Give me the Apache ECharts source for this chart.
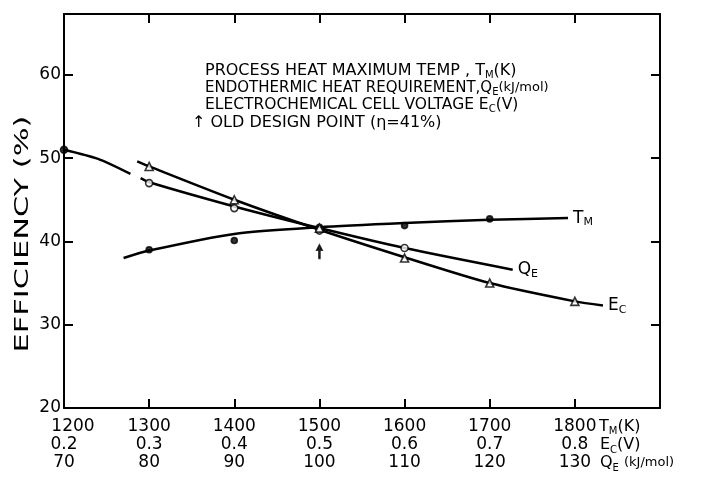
<!DOCTYPE html>
<html><head><meta charset="utf-8">
<script src="https://cdn.jsdelivr.net/npm/echarts@6/dist/echarts.min.js"></script>
<style>html,body{margin:0;padding:0;background:#fff}#c{width:714px;height:479px}</style>
</head><body><div id="c"></div>
<script>
// ---- data ----
const tmTickLabels = ['1200','1300','1400','1500','1600','1700','1800'];
const ecTickLabels = ['0.2','0.3','0.4','0.5','0.6','0.7','0.8'];
const qeTickLabels = ['70','80','90','100','110','120','130'];
const yTickLabels = ['20','30','40','50','60'];

// curves (x in T_M units, y = efficiency %)
const tmLine = [[1270,38.0],[1300,38.9],[1400,40.9],[1500,41.7],[1600,42.2],[1700,42.6],[1792,42.8]];
const qeLineLeft = [[1200,51.0],[1240,49.9],[1278,48.1]];
const qeLine = [[1290,47.6],[1300,47.1],[1400,44.2],[1500,41.6],[1600,39.2],[1727,36.6]];
const ecLine = [[1286,49.6],[1300,49.0],[1400,45.0],[1500,41.4],[1600,38.1],[1700,35.0],[1800,32.8],[1833,32.3]];

// plotted markers
const tmPoints = [[1300,39.0],[1400,40.1],[1500,41.7],[1600,41.9],[1700,42.7]];
const qeStartPoint = [[1200,51.0]];
const qePoints = [[1300,47.0],[1400,44.0],[1500,41.3],[1600,39.2]];
const ecPoints = [[1300,49.0],[1400,45.0],[1500,41.6],[1600,38.0],[1700,35.0],[1800,32.8]];
const designPoint = [[1500,38.8]];

// ---- chart ----
const FONT = 'DejaVu Sans';
const chart = echarts.init(document.getElementById('c'), null, {renderer:'canvas'});
const sub = {fontFamily:FONT, fontSize:11, padding:[9,0,0,0], color:'#000'};
const big = {fontFamily:FONT, fontSize:17, color:'#000'};

function lineSeries(data, label){
  const s = {type:'line', data, xAxisIndex:0, yAxisIndex:0, smooth:0.25,
    showSymbol:false, symbol:'none', lineStyle:{color:'#000', width:2.5}, silent:true, z:2};
  if(label){
    s.endLabel = {show:true, distance:5, formatter:label, rich:{b:big, s:sub}, color:'#000'};
  }
  return s;
}
function scatter(data, symbol, size, filled){
  return {type:'scatter', data, xAxisIndex:0, yAxisIndex:0, symbol, symbolSize:size,
    itemStyle:{color: filled ? '#000' : '#fff', borderColor:'#000', borderWidth:1.6}, z:3, silent:true};
}

const tickStyle = {show:true, inside:true, length:9, lineStyle:{color:'#000', width:2}};
const axisLineStyle = {show:true, lineStyle:{color:'#000', width:2}};
const labelBase = {color:'#000', fontFamily:FONT, fontSize:17, lineHeight:17, margin:10};
const subRich = {s:{fontFamily:FONT, fontSize:10, padding:[8,0,0,0], fill:'#000'}};

const option = {
  backgroundColor:'#fff',
  animation:false,
  grid:{left:64, right:54, top:14, bottom:71, containLabel:false},
  xAxis:[
    {type:'value', position:'bottom', min:1200, max:1900, interval:100,
     axisLine:axisLineStyle, axisTick:tickStyle, splitLine:{show:false},
     axisLabel:Object.assign({}, labelBase, {
       formatter:(v,i)=> i === 0 ? '{p|' + tmTickLabels[0] + '}' : (tmTickLabels[i] ?? ''),
       rich:{p:{fontFamily:FONT, fontSize:17, color:'#000', padding:[0,0,0,18]}}})},
    {type:'value', position:'bottom', offset:18, min:0.2, max:0.9, interval:0.1,
     axisLine:{show:false}, axisTick:{show:false}, splitLine:{show:false},
     axisLabel:Object.assign({}, labelBase, {formatter:(v,i)=>ecTickLabels[i] ?? ''})},
    {type:'value', position:'bottom', offset:36, min:70, max:140, interval:10,
     axisLine:{show:false}, axisTick:{show:false}, splitLine:{show:false},
     axisLabel:Object.assign({}, labelBase, {formatter:(v,i)=>qeTickLabels[i] ?? ''})},
    {type:'value', position:'top', min:1200, max:1900, interval:100,
     axisLine:axisLineStyle, axisTick:tickStyle, splitLine:{show:false}, axisLabel:{show:false}}
  ],
  yAxis:[
    {type:'value', position:'left', min:20, max:67.3, interval:10,
     axisLine:axisLineStyle, axisTick:tickStyle, splitLine:{show:false},
     axisLabel:{color:'#000', fontFamily:FONT, fontSize:17, margin:3,
       formatter:(v,i)=>yTickLabels[i] ?? ''}},
    {type:'value', position:'right', min:20, max:67.3, interval:10,
     axisLine:axisLineStyle, axisTick:tickStyle, splitLine:{show:false}, axisLabel:{show:false}}
  ],
  series:[
    lineSeries(tmLine, '{b|T}{s|M}'),
    lineSeries(qeLineLeft, null),
    lineSeries(qeLine, '{b|Q}{s|E}'),
    lineSeries(ecLine, '{b|E}{s|C}'),
    scatter(tmPoints, 'circle', 6, true),
    scatter(qeStartPoint, 'circle', 7, true),
    scatter(qePoints, 'circle', 7, false),
    scatter(ecPoints, 'triangle', 8, false),
    scatter(designPoint, 'path://M5,0 L10,8 L6.5,8 L6.5,22 L3.5,22 L3.5,8 L0,8 Z', [5,13], true)
  ],
  graphic:[
    {type:'text', x:23, y:234, rotation:Math.PI/2, scaleX:1.6, silent:true,
     style:{text:'EFFICIENCY (%)', font:'19px "DejaVu Sans"', fill:'#000', align:'center', verticalAlign:'middle'}},
    {type:'text', x:205, y:71, silent:true,
     style:{text:'PROCESS HEAT MAXIMUM TEMP , T{s|M}(K)', font:'16px "DejaVu Sans"', fill:'#000', verticalAlign:'middle', rich:subRich}},
    {type:'text', x:205, y:88, silent:true,
     style:{text:'ENDOTHERMIC HEAT REQUIREMENT,Q{s|E}{u|(kJ/mol)}', font:'15px "DejaVu Sans"', fill:'#000', verticalAlign:'middle',
       rich:{s:subRich.s, u:{fontFamily:FONT, fontSize:13, fill:'#000'}}}},
    {type:'text', x:205, y:105, silent:true,
     style:{text:'ELECTROCHEMICAL CELL VOLTAGE E{s|C}(V)', font:'15.5px "DejaVu Sans"', fill:'#000', verticalAlign:'middle', rich:subRich}},
    {type:'text', x:192, y:123, silent:true,
     style:{text:'\u2191 OLD DESIGN POINT (\u03b7=41%)', font:'16px "DejaVu Sans"', fill:'#000', verticalAlign:'middle'}},
    {type:'text', x:599, y:427, silent:true,
     style:{text:'T{s|M}(K)', font:'16px "DejaVu Sans"', fill:'#000', verticalAlign:'middle', rich:subRich}},
    {type:'text', x:600, y:445, silent:true,
     style:{text:'E{s|C}(V)', font:'16px "DejaVu Sans"', fill:'#000', verticalAlign:'middle',
       rich:{s:{fontFamily:FONT, fontSize:10, padding:[10,0,0,0], fill:'#000'}}}},
    {type:'text', x:600, y:463, silent:true,
     style:{text:'Q{s|E} {u|(kJ/mol)}', font:'16px "DejaVu Sans"', fill:'#000', verticalAlign:'middle',
       rich:{s:{fontFamily:FONT, fontSize:10, padding:[10,0,0,0], fill:'#000'},
             u:{fontFamily:FONT, fontSize:13, fill:'#000'}}}}
  ]
};
chart.setOption(option);
</script>
</body></html>
